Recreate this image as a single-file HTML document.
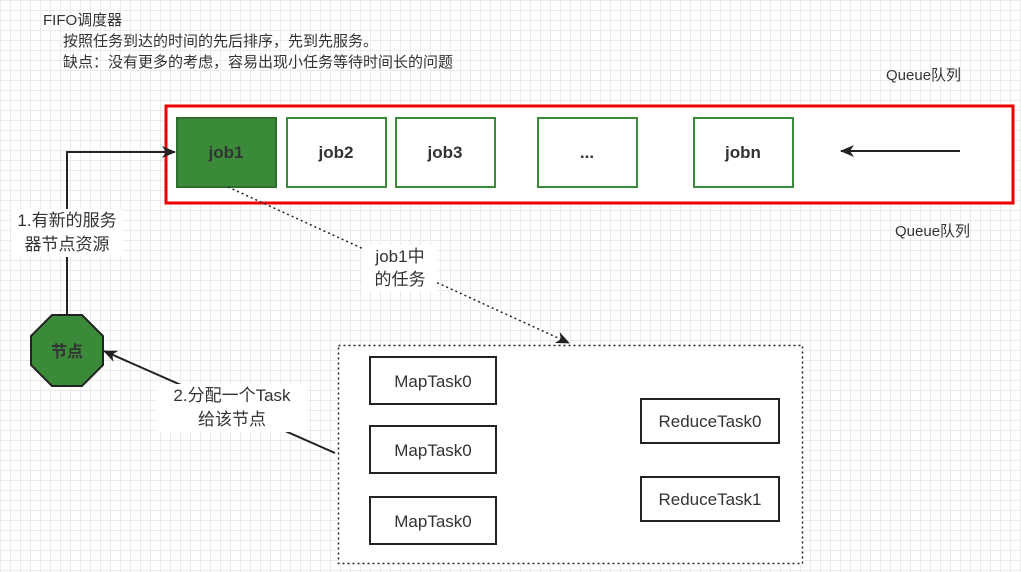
<!DOCTYPE html>
<html><head><meta charset="utf-8"><style>
body{margin:0;width:1021px;height:572px;overflow:hidden;background:#fff;
background-image:linear-gradient(#ebebeb 1px,transparent 1px),linear-gradient(90deg,#ebebeb 1px,transparent 1px);background-size:10px 10px;
font-family:"Liberation Sans","Noto Sans CJK SC",sans-serif;}
.a{position:absolute;}
.t{color:#333;font-size:15px;line-height:21px;}
</style></head><body>
<svg class="a" style="left:0;top:0" width="1021" height="572">
<defs>
<marker id="ar" markerWidth="14" markerHeight="12" refX="13" refY="6" orient="auto" markerUnits="userSpaceOnUse"><path d="M0,0L14,6L0,12L4,6z" fill="#222"/></marker>
</defs>
<rect x="166" y="106" width="847" height="97" fill="#fff" stroke="#e00" stroke-width="3"/>
<rect x="177" y="118" width="99" height="69" fill="#3a8a3a" stroke="#2d6e2d" stroke-width="2"/>
<rect x="287" y="118" width="99" height="69" fill="#fff" stroke="#3a8a3a" stroke-width="2"/>
<rect x="396" y="118" width="99" height="69" fill="#fff" stroke="#3a8a3a" stroke-width="2"/>
<rect x="538" y="118" width="99" height="69" fill="#fff" stroke="#3a8a3a" stroke-width="2"/>
<rect x="694" y="118" width="99" height="69" fill="#fff" stroke="#3a8a3a" stroke-width="2"/>
<line x1="960" y1="151" x2="841" y2="151" stroke="#222" stroke-width="2" marker-end="url(#ar)"/>
<polyline points="67,315 67,152 175,152" fill="none" stroke="#222" stroke-width="2" marker-end="url(#ar)"/>
<polygon points="52,315 82,315 103,336 103,365 82,386 52,386 31,365 31,336" fill="#3a8a3a" stroke="#222" stroke-width="2"/>
<line x1="335" y1="453" x2="104" y2="351" stroke="#222" stroke-width="2" marker-end="url(#ar)"/>
<line x1="228" y1="187" x2="569" y2="343" stroke="#222" stroke-width="1.5" stroke-dasharray="2,3" marker-end="url(#ar)"/>
<rect x="338.5" y="345.5" width="464" height="218" fill="#fff" stroke="#222" stroke-width="1.5" stroke-dasharray="2,3"/>
<rect x="370" y="357" width="126" height="47" fill="#fff" stroke="#222" stroke-width="2"/>
<rect x="370" y="426" width="126" height="47" fill="#fff" stroke="#222" stroke-width="2"/>
<rect x="370" y="497" width="126" height="47" fill="#fff" stroke="#222" stroke-width="2"/>
<rect x="641" y="399" width="138" height="44" fill="#fff" stroke="#222" stroke-width="2"/>
<rect x="641" y="477" width="138" height="44" fill="#fff" stroke="#222" stroke-width="2"/>
<g font-family="Liberation Sans,Noto Sans CJK SC,sans-serif" font-size="17" text-anchor="middle" fill="#333">
<text x="226" y="158" font-weight="bold">job1</text>
<text x="336" y="158" font-weight="bold">job2</text>
<text x="445" y="158" font-weight="bold">job3</text>
<text x="587" y="158" font-weight="bold">...</text>
<text x="743" y="158" font-weight="bold">jobn</text>
<text x="67" y="357" font-weight="bold" font-size="16">节点</text>
<text x="433" y="387">MapTask0</text>
<text x="433" y="456">MapTask0</text>
<text x="433" y="527">MapTask0</text>
<text x="710" y="427">ReduceTask0</text>
<text x="710" y="505">ReduceTask1</text>
</g>
</svg>
<div class="a t" style="left:43px;top:10px">FIFO调度器</div>
<div class="a t" style="left:63px;top:31px">按照任务到达的时间的先后排序，先到先服务。</div>
<div class="a t" style="left:63px;top:52px">缺点：没有更多的考虑，容易出现小任务等待时间长的问题</div>
<div class="a t" style="left:886px;top:65px">Queue队列</div>
<div class="a t" style="left:895px;top:221px">Queue队列</div>
<div class="a t" style="left:12px;top:209px;background:#fff;text-align:center;font-size:17px;line-height:24px;width:110px">1.有新的服务<br>器节点资源</div>
<div class="a t" style="left:157px;top:384px;background:#fff;text-align:center;font-size:17px;line-height:24px;width:150px">2.分配一个Task<br>给该节点</div>
<div class="a t" style="left:363px;top:245px;background:#fff;text-align:center;font-size:17px;line-height:23px;width:74px">job1中<br>的任务</div>
</body></html>
